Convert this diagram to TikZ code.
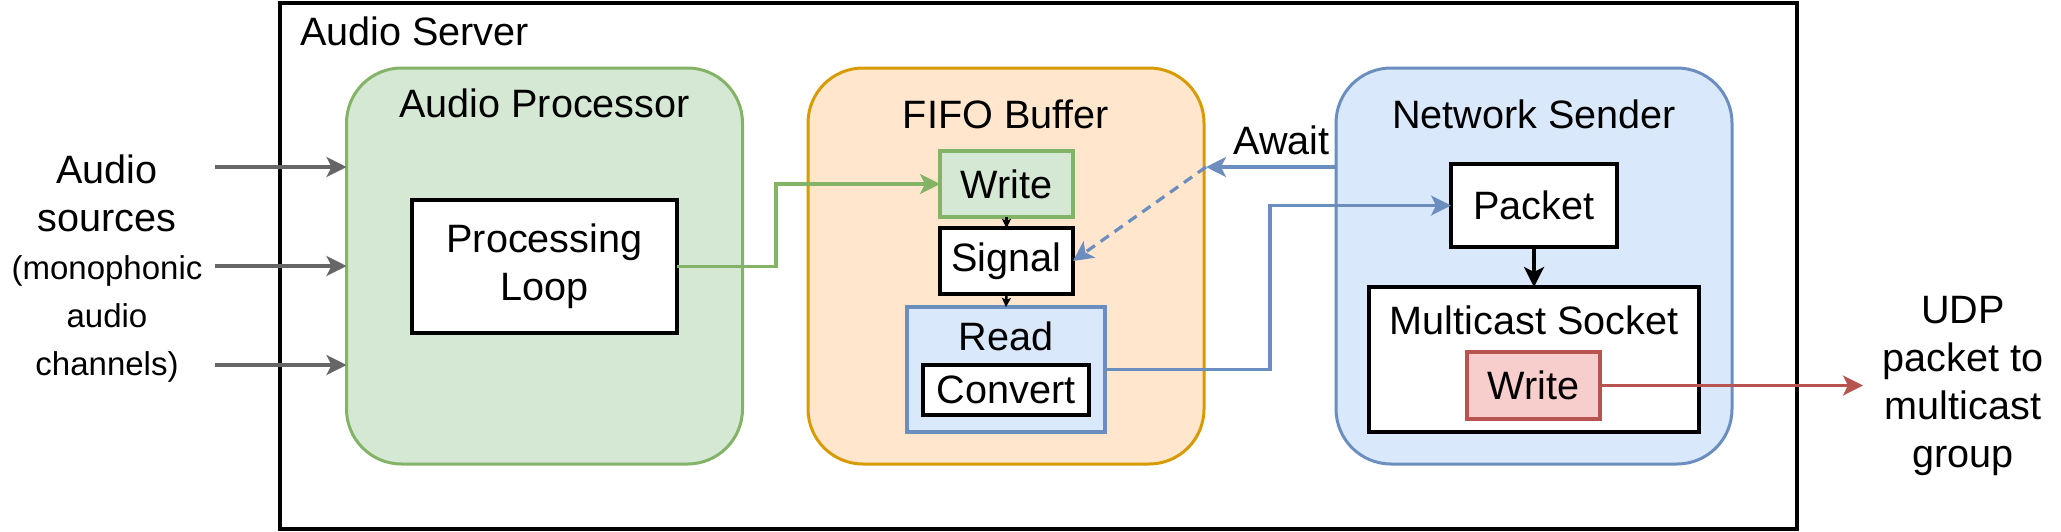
\documentclass[tikz,border=0pt]{standalone}
\usepackage{fontspec}
\setmainfont{Liberation Sans}
\usetikzlibrary{arrows.meta,calc}
\definecolor{gfill}{HTML}{D5E8D4}\definecolor{gline}{HTML}{82B366}
\definecolor{ofill}{HTML}{FFE6CC}\definecolor{oline}{HTML}{D79B00}
\definecolor{bfill}{HTML}{DAE8FC}\definecolor{bline}{HTML}{6C8EBF}
\definecolor{rfill}{HTML}{F8CECC}\definecolor{rline}{HTML}{B85450}
\definecolor{garrow}{HTML}{666666}
\begin{document}
\begin{tikzpicture}[x=0.5pt,y=-0.5pt,
  every node/.style={font=\fontsize{19.8}{24}\selectfont, inner sep=0pt, outer sep=0pt},
  container/.style={draw, line width=1.5pt, rounded corners=27.5pt, minimum width=198pt, minimum height=198pt},
  box/.style={draw, line width=1.6pt, fill=white, align=center},
  conn/.style={line width=1.6pt, -{Stealth[length=10pt,width=10pt,inset=2.5pt]}},
  smallarr/.style={line width=1.3pt, -{Stealth[length=4.5pt,width=4.5pt,inset=0.8pt]}},
]
\useasboundingbox (0,0) rectangle (2061,531);
% outer server box
\node[draw, line width=1.6pt, minimum width=758.5pt, minimum height=263pt] (server) at (1038.5,266) {};
\node[anchor=west] (servert) at (300,31) {Audio Server};
% containers
\node[container, fill=gfill, draw=gline] (ap) at (544.5,266) {};
\node (apt) at (544.5,103) {Audio Processor};
\node[container, fill=ofill, draw=oline] (fifo) at (1006,266) {};
\node (fifot) at (1006,114) {FIFO Buffer};
\node[container, fill=bfill, draw=bline] (ns) at (1534,266) {};
\node (nst) at (1534,114) {Network Sender};
% inner boxes
\node[box, minimum width=132.5pt, minimum height=66.5pt] (pl) at (544.5,266.5) {Processing\\Loop};
\node[box, fill=gfill, draw=gline, minimum width=66.5pt, minimum height=33pt] (w1) at (1006.5,184) {Write};
\node[box, minimum width=66.5pt, minimum height=33pt] (sig) at (1006.5,261) {Signal};
\node[box, fill=bfill, draw=bline, minimum width=99pt, minimum height=62.5pt] (rd) at (1006,369.5) {};
\node (rdt) at (1006,336) {Read};
\node[box, minimum width=83pt, minimum height=25pt] (cv) at (1006,390) {Convert};
\node[box, minimum width=83pt, minimum height=41.5pt] (pk) at (1534,205.5) {Packet};
\node[box, minimum width=165pt, minimum height=72.5pt] (ms) at (1534,359.5) {};
\node (mst) at (1534,320) {Multicast Socket};
\node[box, fill=rfill, draw=rline, minimum width=66.5pt, minimum height=33.5pt] (w2) at (1533.5,385.5) {Write};
% outside labels
\node[align=center] (src) at (107,269) {Audio\\sources\\{\fontsize{16.5}{24}\selectfont (monophonic}\\{\fontsize{16.5}{24}\selectfont audio}\\{\fontsize{16.5}{24}\selectfont channels)}};
\node[align=center] (udp) at (1963,386) {UDP\\packet to\\multicast\\group};
% input arrows
\coordinate (s1) at (215,167);
\coordinate (s2) at (215,266);
\coordinate (s3) at (215,365);
\draw[conn, draw=garrow] (s1) -- (s1 -| ap.west);
\draw[conn, draw=garrow] (s2) -- (s2 -| ap.west);
\draw[conn, draw=garrow] (s3) -- (s3 -| ap.west);
% connectors
\draw[conn, draw=gline] (pl.east) -- ++(99,0) |- (w1.west);
\draw[smallarr] (w1.south) -- (sig.north);
\draw[smallarr] (sig.south) -- (rd.north);
\draw[conn, draw=bline] (rd.east) -- ++(165,0) |- (pk.west);
\draw[conn] (pk.south) -- (ms.north);
\coordinate (aw) at (1206,167);
\draw[conn, draw=bline] (ns.west |- aw) -- (aw) node[pos=0.42, above=6pt] (awt) {Await};
\draw[conn, draw=bline, dash pattern=on 5pt off 3.5pt] (aw) -- (sig.east);
\coordinate (udpin) at (1863,385.5);
\draw[conn, draw=rline] (w2.east) -- (udpin);
\end{tikzpicture}
\end{document}
